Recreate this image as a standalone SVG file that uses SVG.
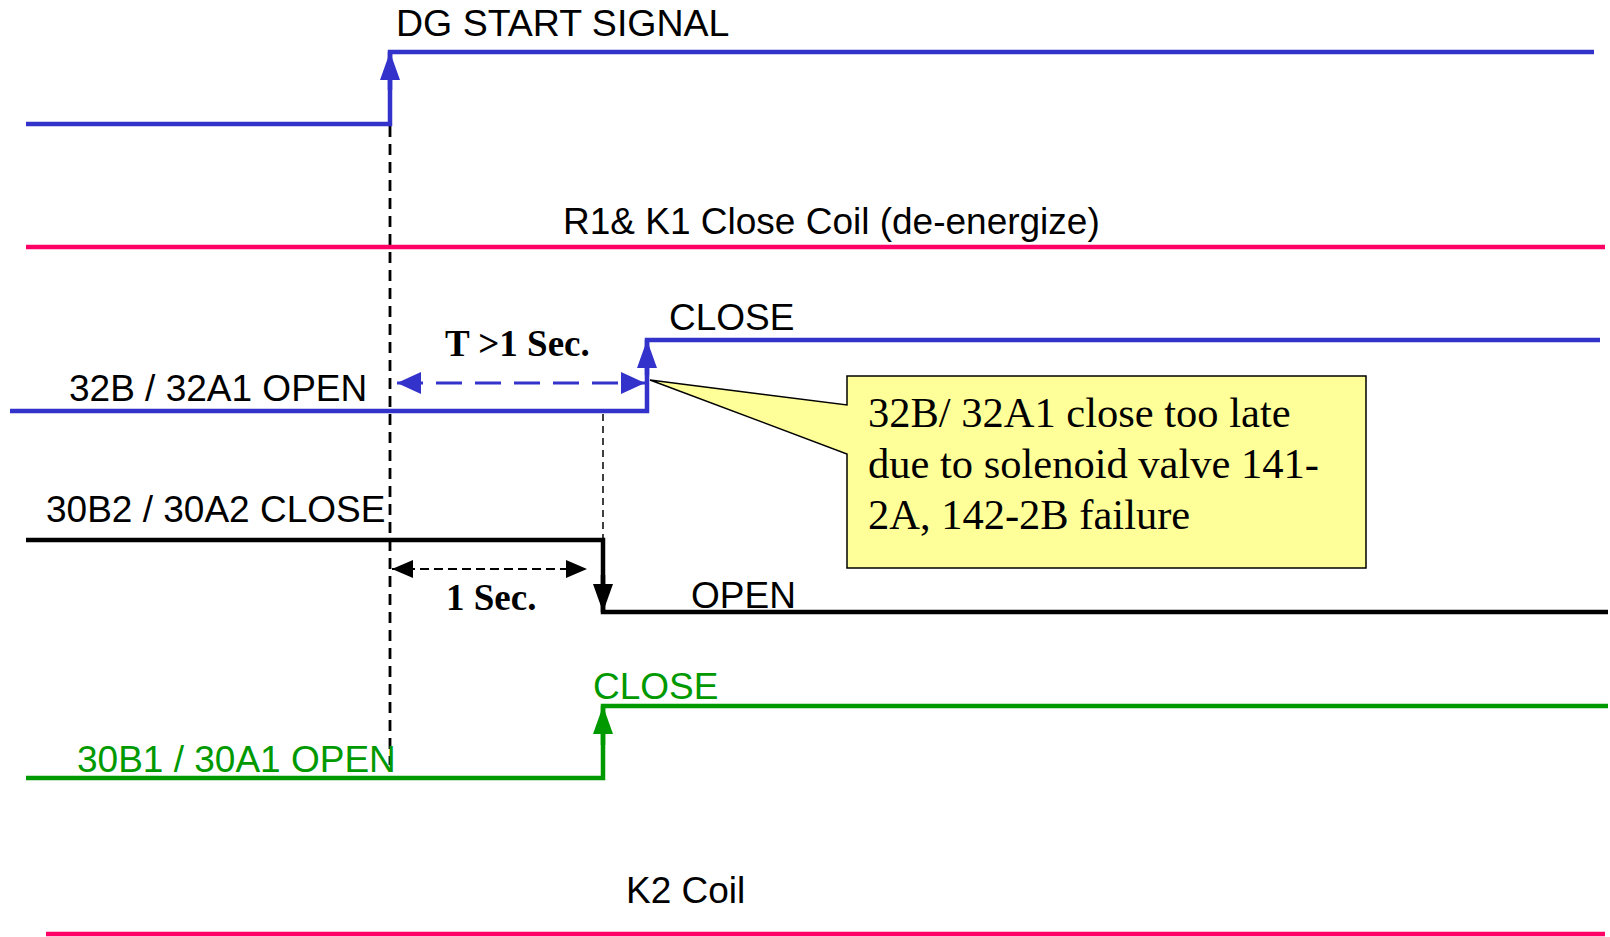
<svg xmlns="http://www.w3.org/2000/svg" width="1610" height="937" viewBox="0 0 1610 937">
<style>
.sig{fill:none;stroke-width:4.5;stroke-linejoin:miter;stroke-linecap:butt}
.blue{stroke:#3333CC}
.pink{stroke:#FF0066}
.black{stroke:#000}
.green{stroke:#009900}
.lbl{font-family:"Liberation Sans",Arial,sans-serif;font-size:37px;fill:#000}
.glbl{fill:#009900}
.dim{font-family:"Liberation Serif","Times New Roman",serif;font-size:37px;font-weight:bold;fill:#000}
.note{font-family:"Liberation Serif","Times New Roman",serif;font-size:42.5px;fill:#000}
.guide{fill:none;stroke:#000}
</style>
<defs>
<marker id="upBlue" markerUnits="userSpaceOnUse" viewBox="0 0 28 20" markerWidth="28" markerHeight="20" refX="28" refY="10" orient="auto"><path d="M0,0 L28,10 L0,20 Z" fill="#3333CC"/></marker>
<marker id="downBlack" markerUnits="userSpaceOnUse" viewBox="0 0 28 20" markerWidth="28" markerHeight="20" refX="28" refY="10" orient="auto"><path d="M0,0 L28,10 L0,20 Z" fill="#000"/></marker>
<marker id="upGreen" markerUnits="userSpaceOnUse" viewBox="0 0 28 20" markerWidth="28" markerHeight="20" refX="28" refY="10" orient="auto"><path d="M0,0 L28,10 L0,20 Z" fill="#009900"/></marker>
<marker id="dimBlue" markerUnits="userSpaceOnUse" viewBox="0 0 24 22" markerWidth="24" markerHeight="22" refX="24" refY="11" orient="auto-start-reverse"><path d="M0,0 L24,11 L0,22 Z" fill="#3333CC"/></marker>
<marker id="dimBlack" markerUnits="userSpaceOnUse" viewBox="0 0 21 18" markerWidth="21" markerHeight="18" refX="21" refY="9" orient="auto-start-reverse"><path d="M0,0 L21,9 L0,18 Z" fill="#000"/></marker>
</defs>
<rect width="1610" height="937" fill="#fff"/>

<g id="connectors">
<path class="guide" d="M390,126 V765" stroke-width="2.8" stroke-dasharray="11 7"/>
<path class="guide" d="M603,414 V538" stroke-width="1.5" stroke-dasharray="7 5"/>
<path d="M397,383 H645" fill="none" stroke="#3333CC" stroke-width="3" stroke-dasharray="26 13" marker-start="url(#dimBlue)" marker-end="url(#dimBlue)"/>
<path d="M392,569 H587" fill="none" stroke="#000" stroke-width="2.2" stroke-dasharray="9 5" marker-start="url(#dimBlack)" marker-end="url(#dimBlack)"/>
</g>

<g id="dg-start">
<path class="sig blue" d="M26,124 H390 V52 H1594"/>
<path class="sig blue" d="M390,90 V52" marker-end="url(#upBlue)"/>
<text class="lbl" x="396" y="36" style="font-size:37.5px">DG START SIGNAL</text>
</g>

<g id="r1-k1-coil">
<path class="sig pink" d="M26,247 H1605"/>
<text class="lbl" x="563" y="234">R1&amp; K1 Close Coil (de-energize)</text>
</g>

<g id="sig-32b">
<path class="sig blue" d="M10,411 H647 V340 H1600"/>
<path class="sig blue" d="M647,375 V340" marker-end="url(#upBlue)"/>
<text class="lbl" x="69" y="401">32B / 32A1 OPEN</text>
<text class="lbl" x="669" y="330">CLOSE</text>
<text class="dim" x="445" y="356">T &gt;1 Sec.</text>
</g>

<g id="sig-30b2">
<path class="sig black" d="M26,540 H603 V612 H1608"/>
<path class="sig black" d="M603,575 V612" marker-end="url(#downBlack)"/>
<text class="lbl" x="46" y="522">30B2 / 30A2 CLOSE</text>
<text class="lbl" x="691" y="608">OPEN</text>
<text class="dim" x="446" y="610">1 Sec.</text>
</g>

<g id="sig-30b1">
<path class="sig green" d="M26,778 H603 V706 H1608"/>
<path class="sig green" d="M603,745 V706" marker-end="url(#upGreen)"/>
<text class="lbl glbl" x="77" y="772">30B1 / 30A1 OPEN</text>
<text class="lbl glbl" x="593" y="699">CLOSE</text>
</g>

<g id="k2-coil">
<path class="sig pink" d="M46,934 H1605"/>
<text class="lbl" x="626" y="903">K2 Coil</text>
</g>

<g id="callout">
<path d="M847,376 H1366 V568 H847 V454 L650,380 L847,405 Z" fill="#FFFF99" stroke="#000" stroke-width="1.5"/>
<text class="note" x="868" y="427">32B/ 32A1 close too late</text>
<text class="note" x="868" y="478">due to solenoid valve 141-</text>
<text class="note" x="868" y="529">2A, 142-2B failure</text>
</g>
</svg>
